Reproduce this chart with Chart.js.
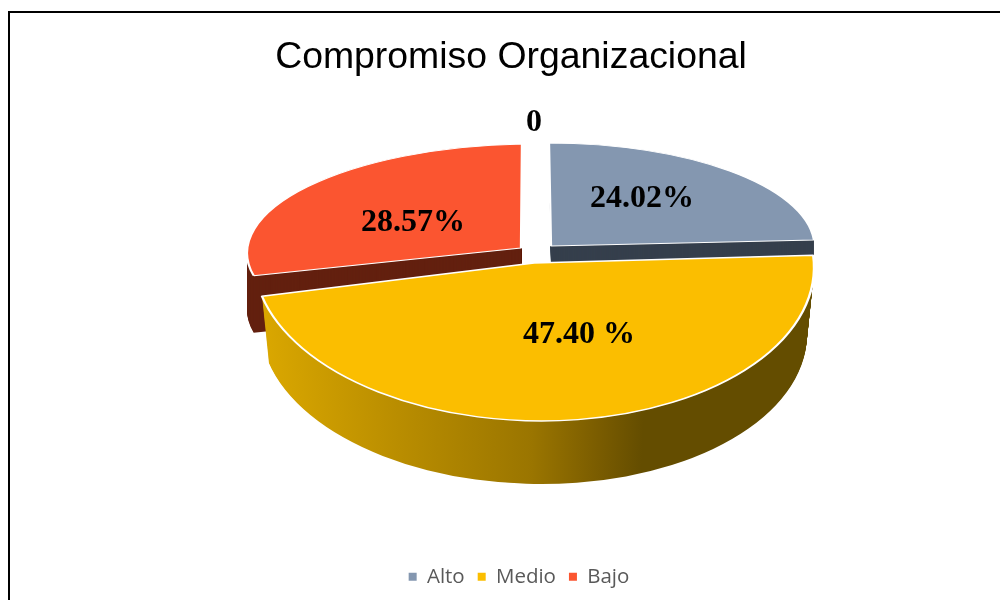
<!DOCTYPE html>
<html>
<head>
<meta charset="utf-8">
<script src="https://cdn.jsdelivr.net/npm/chart.js@4/dist/chart.umd.min.js"></script>
<style>
html,body{margin:0;padding:0;background:#fff;overflow:hidden;width:1000px;height:600px}
#frame{position:absolute;left:8px;top:11px;width:1100px;height:700px;border-left:2px solid #000;border-top:2px solid #000}
#wrap{position:absolute;left:0;top:0;width:1000px;height:600px}
</style>
</head>
<body>
<div id="frame"></div>
<div id="wrap"><canvas id="c" width="1000" height="600"></canvas></div>
<script>
const chartTitle = 'Compromiso Organizacional';
const categories = ['Alto', 'Medio', 'Bajo', ''];
const values = [24.02, 47.40, 28.57, 0];
const valueLabels = ['24.02%', '47.40 %', '28.57%', '0'];
const colors = ['#8497b0', '#fbbe00', '#fb5530', '#ffffff'];
const wallColors = ['#353f4c', null, '#63200f', null];

// View settings: how each slice of the flat pie is projected on the page
const projection = [
  {c:[551,246], a:[263.6,0.3], b:[2,103],  depth:19, taper:0},
  {c:[534,263], a:[280,2],     b:[4,158],  depth:67, taper:0.025},
  {c:[521,248], a:[274,-4.7],  b:[-1,104], depth:57, taper:0},
  {c:[534,120], a:[1,0],       b:[0,1],    depth:0,  taper:0}
];
const labelAnchors = [[642,199],[579,335],[413,223],[534,123]];
const drawOrder = [0, 2, 1];

function withProjection(ctx, el, p, dy, shrink, fn){
  const R = el.outerRadius, k = (1 - shrink) / R;
  ctx.save();
  ctx.translate(p.c[0], p.c[1] + dy);
  ctx.transform(p.a[0]*k, p.a[1]*k, p.b[0]*k, p.b[1]*k, 0, 0);
  ctx.translate(-el.x, -el.y);
  fn();
  ctx.restore();
}
function stamp(ctx, el, fill, border){
  const saved = el.options;
  el.options = Object.assign({}, saved, {backgroundColor: fill, borderWidth: border});
  el.draw(ctx);
  el.options = saved;
}
const pie3d = {
  id: 'pie3d',
  afterLayout(chart){
    chart.titleBlock.left += 11; chart.titleBlock.right += 11;
    chart.legend.left += 19; chart.legend.right += 19;
  },
  beforeDatasetsDraw(chart){
    const ctx = chart.ctx;
    const arcs = chart.getDatasetMeta(0).data;
    for (const i of drawOrder){
      const el = arcs[i], p = projection[i];
      let wall = wallColors[i];
      if (!wall){
        const R = el.outerRadius;
        wall = ctx.createLinearGradient(el.x - R, 0, el.x + R, 0);
        wall.addColorStop(0, '#dba800');
        wall.addColorStop(0.25, '#b98d00');
        wall.addColorStop(0.49, '#9a7500');
        wall.addColorStop(0.61, '#7a5c00');
        wall.addColorStop(0.69, '#644d00');
        wall.addColorStop(1, '#644d00');
      }
      for (let d = p.depth; d > 0; d--){
        withProjection(ctx, el, p, d, p.taper * d / p.depth, () => stamp(ctx, el, wall, 0));
      }
    }
    for (const i of drawOrder){
      const el = arcs[i];
      withProjection(ctx, el, projection[i], 0, 0, () => el.draw(ctx));
    }
    return false;
  },
  afterDraw(chart){
    const ctx = chart.ctx;
    ctx.save();
    ctx.fillStyle = '#000';
    ctx.font = 'bold 32px "Liberation Serif"';
    ctx.textAlign = 'center';
    ctx.textBaseline = 'middle';
    valueLabels.forEach((t, i) => ctx.fillText(t, labelAnchors[i][0], labelAnchors[i][1]));
    ctx.restore();
  }
};

new Chart(document.getElementById('c'), {
  type: 'pie',
  plugins: [pie3d],
  data: {
    labels: categories,
    datasets: [{
      data: values,
      backgroundColor: colors,
      borderColor: '#ffffff',
      borderWidth: 2,
      hoverOffset: 0
    }]
  },
  options: {
    responsive: false,
    animation: false,
    layout: {padding: {top: 35, bottom: 3}},
    plugins: {
      tooltip: {enabled: false},
      title: {
        display: true,
        text: chartTitle,
        color: '#000',
        font: {family: '"Liberation Sans"', size: 37.4, weight: 'normal'},
        padding: {top: 0, bottom: 10}
      },
      legend: {
        position: 'bottom',
        labels: {
          generateLabels: chart => Chart.overrides.pie.plugins.legend.labels.generateLabels(chart)
            .map(item => Object.assign(item, {lineWidth: 0})),
          filter: item => item.text !== '',
          color: '#595959',
          boxWidth: 8,
          boxHeight: 8,
          padding: 13,
          font: {family: '"Open Sans"', size: 20.5}
        }
      }
    }
  }
});
</script>
</body>
</html>
